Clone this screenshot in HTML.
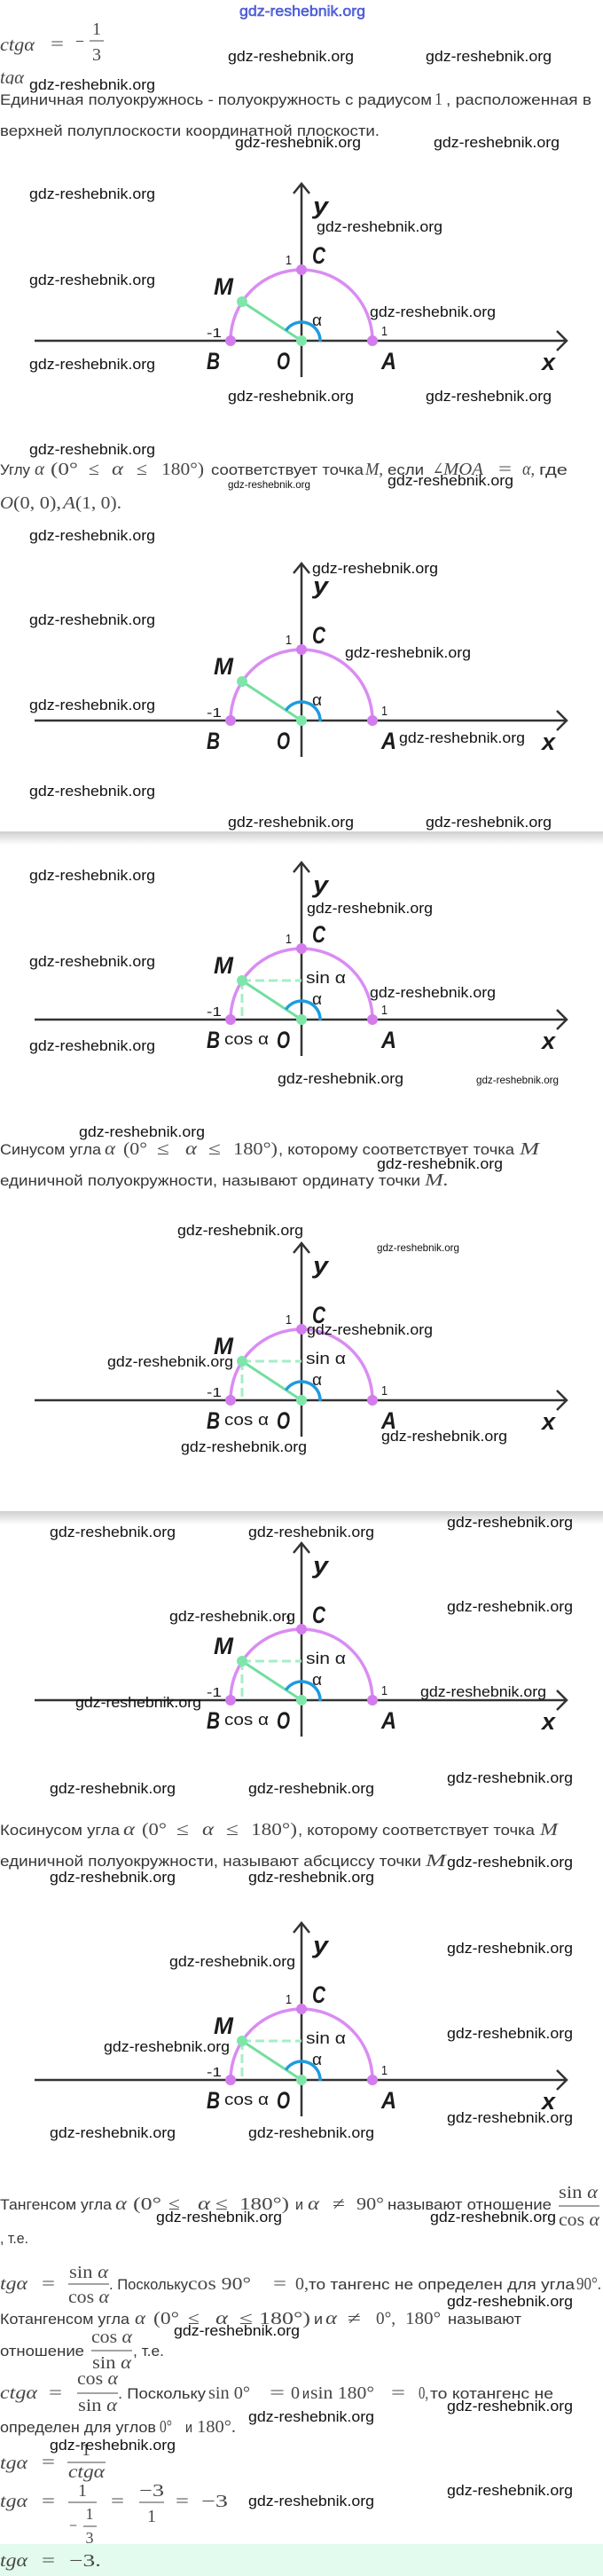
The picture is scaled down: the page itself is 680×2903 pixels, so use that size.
<!DOCTYPE html>
<html><head><meta charset="utf-8">
<style>
html,body{margin:0;padding:0;background:#fff}
svg{display:block}
.t{font-family:"Liberation Sans","DejaVu Sans",sans-serif;font-size:17px;fill:#363636}
.m{font-family:"Liberation Serif","DejaVu Serif",serif;font-size:20px;fill:#474747}
.mi{font-family:"Liberation Serif","DejaVu Serif",serif;font-style:italic;font-size:20px;fill:#474747}
.w{font-family:"Liberation Sans","DejaVu Sans",sans-serif;font-size:17px;fill:#111}
.ws{font-family:"Liberation Sans","DejaVu Sans",sans-serif;font-size:12px;fill:#111}
.L{font-family:"Liberation Sans","DejaVu Sans",sans-serif;font-style:italic;font-weight:bold;font-size:27px;fill:#1b1b1b}
.n{font-family:"Liberation Sans","DejaVu Sans",sans-serif;font-size:15px;fill:#1b1b1b}
.g{font-family:"Liberation Sans","DejaVu Sans",sans-serif;font-size:18px;fill:#1b1b1b}
.ax{stroke:#333;stroke-width:2.5;fill:none}
.arc{stroke:#da8cf3;stroke-width:3.5;fill:none}
.gl{stroke:#72de9f;stroke-width:3}
.ds{stroke:#a6edc8;stroke-width:3;stroke-dasharray:10 5}
.bl{stroke:#1e9be0;stroke-width:3.5;fill:none}
.vd{fill:#d37cee}
.gd{fill:#7ee6a9}
.fb{stroke:#474747;stroke-width:1}
</style></head>
<body>
<svg xmlns="http://www.w3.org/2000/svg" width="680" height="2903" viewBox="0 0 680 2903">
<defs>
<clipPath id="cpB"><rect x="0" y="70" width="60" height="25"/></clipPath>
<linearGradient id="sh" x1="0" y1="0" x2="0" y2="1"><stop offset="0" stop-color="#cfcfcf"/><stop offset="1" stop-color="#ffffff"/></linearGradient>
</defs>
<rect x="0" y="0" width="680" height="2903" fill="#fff"/>

<!-- top -->
<text x="270" y="18" textLength="142" lengthAdjust="spacingAndGlyphs" style="font-family:'Liberation Sans',sans-serif;font-size:17px;fill:#6070e0;stroke:#3444cc;stroke-width:0.5">gdz-reshebnik.org</text>

<text class="mi" x="0" y="57" textLength="39" lengthAdjust="spacingAndGlyphs" style="font-size:21px">ctgα</text>
<text class="m" x="57" y="56" textLength="15" lengthAdjust="spacingAndGlyphs">=</text>
<text class="m" x="85" y="53" textLength="10" lengthAdjust="spacingAndGlyphs">−</text>
<text class="m" x="109" y="39" text-anchor="middle">1</text>
<line class="fb" x1="101" y1="46" x2="117" y2="46"/>
<text class="m" x="109" y="68" text-anchor="middle">3</text>

<text class="mi" x="0" y="94" textLength="27" lengthAdjust="spacingAndGlyphs" clip-path="url(#cpB)" style="font-size:21px">tgα</text>

<text class="t" x="0" y="118" textLength="487" lengthAdjust="spacingAndGlyphs">Единичная полуокружнось - полуокружность с радиусом</text>
<text class="m" x="490" y="118" textLength="9" lengthAdjust="spacingAndGlyphs">1</text>
<text class="t" x="503" y="118" textLength="164" lengthAdjust="spacingAndGlyphs">, расположенная в</text>
<text class="t" x="0" y="153" textLength="428" lengthAdjust="spacingAndGlyphs">верхней полуплоскости координатной плоскости.</text>

<!-- Diagram 1 -->
<g transform="translate(0,384)">
<line class="ax" x1="39" y1="0" x2="639" y2="0"/>
<polyline class="ax" points="628,-11 639,0 628,11"/>
<line class="ax" x1="340" y1="-177" x2="340" y2="41"/>
<polyline class="ax" points="331,-166 340,-177 349,-166"/>
<path class="arc" d="M260 0 A80 80 0 0 1 420 0"/>
<line class="gl" x1="340" y1="0" x2="273" y2="-44"/>
<path class="bl" d="M361 1 A21 21 0 0 0 322.4 -11.4"/>
<circle class="vd" cx="260" cy="0" r="6"/><circle class="vd" cx="340" cy="-80" r="6"/><circle class="vd" cx="420" cy="0" r="6"/>
<circle class="gd" cx="273" cy="-44" r="6"/><circle class="gd" cx="340" cy="0" r="6"/>
<text class="L" x="353" y="-143" textLength="17" lengthAdjust="spacingAndGlyphs">y</text>
<text class="L" x="352" y="-87" textLength="15" lengthAdjust="spacingAndGlyphs">C</text>
<text class="n" x="322" y="-86" textLength="7" lengthAdjust="spacingAndGlyphs">1</text>
<text class="L" x="241" y="-52" textLength="22" lengthAdjust="spacingAndGlyphs">M</text>
<text class="g" x="352" y="-17" textLength="11" lengthAdjust="spacingAndGlyphs">α</text>
<text class="n" x="233" y="-4" textLength="17" lengthAdjust="spacingAndGlyphs">-1</text>
<text class="n" x="430" y="-6" textLength="7" lengthAdjust="spacingAndGlyphs">1</text>
<text class="L" x="233" y="32" textLength="15" lengthAdjust="spacingAndGlyphs">B</text>
<text class="L" x="312" y="32" textLength="15" lengthAdjust="spacingAndGlyphs">O</text>
<text class="L" x="430" y="32" textLength="17" lengthAdjust="spacingAndGlyphs">A</text>
<text class="L" x="611" y="33" textLength="15" lengthAdjust="spacingAndGlyphs">x</text>
</g>

<!-- Angle text -->
<text class="t" x="0" y="535" textLength="34" lengthAdjust="spacingAndGlyphs">Углу</text>
<text class="mi" x="39" y="535" textLength="11" lengthAdjust="spacingAndGlyphs">α</text>
<text class="m" x="57" y="535" textLength="31" lengthAdjust="spacingAndGlyphs">(0°</text>
<text class="m" x="100" y="535" textLength="12" lengthAdjust="spacingAndGlyphs">≤</text>
<text class="mi" x="126" y="535" textLength="13" lengthAdjust="spacingAndGlyphs">α</text>
<text class="m" x="154" y="535" textLength="12" lengthAdjust="spacingAndGlyphs">≤</text>
<text class="m" x="182" y="535" textLength="48" lengthAdjust="spacingAndGlyphs">180°)</text>
<text class="t" x="238" y="535" textLength="172" lengthAdjust="spacingAndGlyphs">соответствует точка</text>
<text class="mi" x="412" y="535" textLength="20" lengthAdjust="spacingAndGlyphs">M,</text>
<text class="t" x="437" y="535" textLength="41" lengthAdjust="spacingAndGlyphs">если</text>
<text class="m" x="488" y="535" textLength="12" lengthAdjust="spacingAndGlyphs">∠</text>
<text class="mi" x="500" y="535" textLength="45" lengthAdjust="spacingAndGlyphs">MOA</text>
<text class="m" x="562" y="535" textLength="15" lengthAdjust="spacingAndGlyphs">=</text>
<text class="mi" x="589" y="535" textLength="14" lengthAdjust="spacingAndGlyphs">α,</text>
<text class="t" x="608" y="535" textLength="32" lengthAdjust="spacingAndGlyphs">где</text>
<text class="mi" x="0" y="573" textLength="15" lengthAdjust="spacingAndGlyphs">O</text>
<text class="m" x="15" y="573" textLength="54" lengthAdjust="spacingAndGlyphs">(0, 0),</text>
<text class="mi" x="71" y="573" textLength="14" lengthAdjust="spacingAndGlyphs">A</text>
<text class="m" x="85" y="573" textLength="52" lengthAdjust="spacingAndGlyphs">(1, 0).</text>

<!-- Diagram 2 -->
<g transform="translate(0,812)">
<line class="ax" x1="39" y1="0" x2="639" y2="0"/>
<polyline class="ax" points="628,-11 639,0 628,11"/>
<line class="ax" x1="340" y1="-177" x2="340" y2="41"/>
<polyline class="ax" points="331,-166 340,-177 349,-166"/>
<path class="arc" d="M260 0 A80 80 0 0 1 420 0"/>
<line class="gl" x1="340" y1="0" x2="273" y2="-44"/>
<path class="bl" d="M361 1 A21 21 0 0 0 322.4 -11.4"/>
<circle class="vd" cx="260" cy="0" r="6"/><circle class="vd" cx="340" cy="-80" r="6"/><circle class="vd" cx="420" cy="0" r="6"/>
<circle class="gd" cx="273" cy="-44" r="6"/><circle class="gd" cx="340" cy="0" r="6"/>
<text class="L" x="353" y="-143" textLength="17" lengthAdjust="spacingAndGlyphs">y</text>
<text class="L" x="352" y="-87" textLength="15" lengthAdjust="spacingAndGlyphs">C</text>
<text class="n" x="322" y="-86" textLength="7" lengthAdjust="spacingAndGlyphs">1</text>
<text class="L" x="241" y="-52" textLength="22" lengthAdjust="spacingAndGlyphs">M</text>
<text class="g" x="352" y="-17" textLength="11" lengthAdjust="spacingAndGlyphs">α</text>
<text class="n" x="233" y="-4" textLength="17" lengthAdjust="spacingAndGlyphs">-1</text>
<text class="n" x="430" y="-6" textLength="7" lengthAdjust="spacingAndGlyphs">1</text>
<text class="L" x="233" y="32" textLength="15" lengthAdjust="spacingAndGlyphs">B</text>
<text class="L" x="312" y="32" textLength="15" lengthAdjust="spacingAndGlyphs">O</text>
<text class="L" x="430" y="32" textLength="17" lengthAdjust="spacingAndGlyphs">A</text>
<text class="L" x="611" y="33" textLength="15" lengthAdjust="spacingAndGlyphs">x</text>
</g>

<!-- watermarks before band 1 -->
<text class="w" x="257" y="932" textLength="142" lengthAdjust="spacingAndGlyphs">gdz-reshebnik.org</text>
<text class="w" x="480" y="932" textLength="142" lengthAdjust="spacingAndGlyphs">gdz-reshebnik.org</text>
<rect x="0" y="937" width="680" height="15" fill="url(#sh)"/>

<!-- Diagram 3 -->
<g transform="translate(0,1149)">
<line class="ax" x1="39" y1="0" x2="639" y2="0"/>
<polyline class="ax" points="628,-11 639,0 628,11"/>
<line class="ax" x1="340" y1="-177" x2="340" y2="41"/>
<polyline class="ax" points="331,-166 340,-177 349,-166"/>
<path class="arc" d="M260 0 A80 80 0 0 1 420 0"/>
<line class="ds" x1="273" y1="-44" x2="340" y2="-44"/>
<line class="ds" x1="273" y1="-44" x2="273" y2="0"/>
<line class="gl" x1="340" y1="0" x2="273" y2="-44"/>
<path class="bl" d="M361 1 A21 21 0 0 0 322.4 -11.4"/>
<circle class="vd" cx="260" cy="0" r="6"/><circle class="vd" cx="340" cy="-80" r="6"/><circle class="vd" cx="420" cy="0" r="6"/>
<circle class="gd" cx="273" cy="-44" r="6"/><circle class="gd" cx="340" cy="0" r="6"/>
<text class="L" x="353" y="-143" textLength="17" lengthAdjust="spacingAndGlyphs">y</text>
<text class="L" x="352" y="-87" textLength="15" lengthAdjust="spacingAndGlyphs">C</text>
<text class="n" x="322" y="-86" textLength="7" lengthAdjust="spacingAndGlyphs">1</text>
<text class="L" x="241" y="-52" textLength="22" lengthAdjust="spacingAndGlyphs">M</text>
<text class="g" x="345" y="-41" textLength="45" lengthAdjust="spacingAndGlyphs">sin α</text>
<text class="g" x="352" y="-17" textLength="11" lengthAdjust="spacingAndGlyphs">α</text>
<text class="n" x="233" y="-4" textLength="17" lengthAdjust="spacingAndGlyphs">-1</text>
<text class="n" x="430" y="-6" textLength="7" lengthAdjust="spacingAndGlyphs">1</text>
<text class="L" x="233" y="32" textLength="15" lengthAdjust="spacingAndGlyphs">B</text>
<text class="g" x="253" y="28" textLength="50" lengthAdjust="spacingAndGlyphs">cos α</text>
<text class="L" x="312" y="32" textLength="15" lengthAdjust="spacingAndGlyphs">O</text>
<text class="L" x="430" y="32" textLength="17" lengthAdjust="spacingAndGlyphs">A</text>
<text class="L" x="611" y="33" textLength="15" lengthAdjust="spacingAndGlyphs">x</text>
</g>

<!-- Sine text -->
<text class="t" x="0" y="1301" textLength="114" lengthAdjust="spacingAndGlyphs">Синусом угла</text>
<text class="mi" x="118" y="1301" textLength="12" lengthAdjust="spacingAndGlyphs">α</text>
<text class="m" x="139" y="1301" textLength="27" lengthAdjust="spacingAndGlyphs">(0°</text>
<text class="m" x="177" y="1301" textLength="14" lengthAdjust="spacingAndGlyphs">≤</text>
<text class="mi" x="209" y="1301" textLength="13" lengthAdjust="spacingAndGlyphs">α</text>
<text class="m" x="235" y="1301" textLength="14" lengthAdjust="spacingAndGlyphs">≤</text>
<text class="m" x="263" y="1301" textLength="50" lengthAdjust="spacingAndGlyphs">180°)</text>
<text class="t" x="314" y="1301" textLength="266" lengthAdjust="spacingAndGlyphs">, которому соответствует точка</text>
<text class="mi" x="586" y="1301" textLength="22" lengthAdjust="spacingAndGlyphs">M</text>
<text class="t" x="0" y="1336" textLength="474" lengthAdjust="spacingAndGlyphs">единичной полуокружности, называют ординату точки</text>
<text class="mi" x="479" y="1336" textLength="27" lengthAdjust="spacingAndGlyphs">M.</text>

<!-- Diagram 4 -->
<g transform="translate(0,1578)">
<line class="ax" x1="39" y1="0" x2="639" y2="0"/>
<polyline class="ax" points="628,-11 639,0 628,11"/>
<line class="ax" x1="340" y1="-177" x2="340" y2="41"/>
<polyline class="ax" points="331,-166 340,-177 349,-166"/>
<path class="arc" d="M260 0 A80 80 0 0 1 420 0"/>
<line class="ds" x1="273" y1="-44" x2="340" y2="-44"/>
<line class="ds" x1="273" y1="-44" x2="273" y2="0"/>
<line class="gl" x1="340" y1="0" x2="273" y2="-44"/>
<path class="bl" d="M361 1 A21 21 0 0 0 322.4 -11.4"/>
<circle class="vd" cx="260" cy="0" r="6"/><circle class="vd" cx="340" cy="-80" r="6"/><circle class="vd" cx="420" cy="0" r="6"/>
<circle class="gd" cx="273" cy="-44" r="6"/><circle class="gd" cx="340" cy="0" r="6"/>
<text class="L" x="353" y="-143" textLength="17" lengthAdjust="spacingAndGlyphs">y</text>
<text class="L" x="352" y="-87" textLength="15" lengthAdjust="spacingAndGlyphs">C</text>
<text class="n" x="322" y="-86" textLength="7" lengthAdjust="spacingAndGlyphs">1</text>
<text class="L" x="241" y="-52" textLength="22" lengthAdjust="spacingAndGlyphs">M</text>
<text class="g" x="345" y="-41" textLength="45" lengthAdjust="spacingAndGlyphs">sin α</text>
<text class="g" x="352" y="-17" textLength="11" lengthAdjust="spacingAndGlyphs">α</text>
<text class="n" x="233" y="-4" textLength="17" lengthAdjust="spacingAndGlyphs">-1</text>
<text class="n" x="430" y="-6" textLength="7" lengthAdjust="spacingAndGlyphs">1</text>
<text class="L" x="233" y="32" textLength="15" lengthAdjust="spacingAndGlyphs">B</text>
<text class="g" x="253" y="28" textLength="50" lengthAdjust="spacingAndGlyphs">cos α</text>
<text class="L" x="312" y="32" textLength="15" lengthAdjust="spacingAndGlyphs">O</text>
<text class="L" x="430" y="32" textLength="17" lengthAdjust="spacingAndGlyphs">A</text>
<text class="L" x="611" y="33" textLength="15" lengthAdjust="spacingAndGlyphs">x</text>
</g>

<rect x="0" y="1703" width="680" height="15" fill="url(#sh)"/>

<!-- Diagram 5 -->
<g transform="translate(0,1916)">
<line class="ax" x1="39" y1="0" x2="639" y2="0"/>
<polyline class="ax" points="628,-11 639,0 628,11"/>
<line class="ax" x1="340" y1="-177" x2="340" y2="41"/>
<polyline class="ax" points="331,-166 340,-177 349,-166"/>
<path class="arc" d="M260 0 A80 80 0 0 1 420 0"/>
<line class="ds" x1="273" y1="-44" x2="340" y2="-44"/>
<line class="ds" x1="273" y1="-44" x2="273" y2="0"/>
<line class="gl" x1="340" y1="0" x2="273" y2="-44"/>
<path class="bl" d="M361 1 A21 21 0 0 0 322.4 -11.4"/>
<circle class="vd" cx="260" cy="0" r="6"/><circle class="vd" cx="340" cy="-80" r="6"/><circle class="vd" cx="420" cy="0" r="6"/>
<circle class="gd" cx="273" cy="-44" r="6"/><circle class="gd" cx="340" cy="0" r="6"/>
<text class="L" x="353" y="-143" textLength="17" lengthAdjust="spacingAndGlyphs">y</text>
<text class="L" x="352" y="-87" textLength="15" lengthAdjust="spacingAndGlyphs">C</text>
<text class="n" x="322" y="-86" textLength="7" lengthAdjust="spacingAndGlyphs">1</text>
<text class="L" x="241" y="-52" textLength="22" lengthAdjust="spacingAndGlyphs">M</text>
<text class="g" x="345" y="-41" textLength="45" lengthAdjust="spacingAndGlyphs">sin α</text>
<text class="g" x="352" y="-17" textLength="11" lengthAdjust="spacingAndGlyphs">α</text>
<text class="n" x="233" y="-4" textLength="17" lengthAdjust="spacingAndGlyphs">-1</text>
<text class="n" x="430" y="-6" textLength="7" lengthAdjust="spacingAndGlyphs">1</text>
<text class="L" x="233" y="32" textLength="15" lengthAdjust="spacingAndGlyphs">B</text>
<text class="g" x="253" y="28" textLength="50" lengthAdjust="spacingAndGlyphs">cos α</text>
<text class="L" x="312" y="32" textLength="15" lengthAdjust="spacingAndGlyphs">O</text>
<text class="L" x="430" y="32" textLength="17" lengthAdjust="spacingAndGlyphs">A</text>
<text class="L" x="611" y="33" textLength="15" lengthAdjust="spacingAndGlyphs">x</text>
</g>

<!-- Cosine text -->
<text class="t" x="0" y="2068" textLength="135" lengthAdjust="spacingAndGlyphs">Косинусом угла</text>
<text class="mi" x="139" y="2068" textLength="13" lengthAdjust="spacingAndGlyphs">α</text>
<text class="m" x="160" y="2068" textLength="28" lengthAdjust="spacingAndGlyphs">(0°</text>
<text class="m" x="199" y="2068" textLength="14" lengthAdjust="spacingAndGlyphs">≤</text>
<text class="mi" x="228" y="2068" textLength="13" lengthAdjust="spacingAndGlyphs">α</text>
<text class="m" x="255" y="2068" textLength="14" lengthAdjust="spacingAndGlyphs">≤</text>
<text class="m" x="283" y="2068" textLength="52" lengthAdjust="spacingAndGlyphs">180°)</text>
<text class="t" x="336" y="2068" textLength="267" lengthAdjust="spacingAndGlyphs">, которому соответствует точка</text>
<text class="mi" x="609" y="2068" textLength="20" lengthAdjust="spacingAndGlyphs">M</text>
<text class="t" x="0" y="2103" textLength="475" lengthAdjust="spacingAndGlyphs">единичной полуокружности, называют абсциссу точки</text>
<text class="mi" x="480" y="2103" textLength="23" lengthAdjust="spacingAndGlyphs">M</text>

<!-- Diagram 6 -->
<g transform="translate(0,2344)">
<line class="ax" x1="39" y1="0" x2="639" y2="0"/>
<polyline class="ax" points="628,-11 639,0 628,11"/>
<line class="ax" x1="340" y1="-177" x2="340" y2="41"/>
<polyline class="ax" points="331,-166 340,-177 349,-166"/>
<path class="arc" d="M260 0 A80 80 0 0 1 420 0"/>
<line class="ds" x1="273" y1="-44" x2="340" y2="-44"/>
<line class="ds" x1="273" y1="-44" x2="273" y2="0"/>
<line class="gl" x1="340" y1="0" x2="273" y2="-44"/>
<path class="bl" d="M361 1 A21 21 0 0 0 322.4 -11.4"/>
<circle class="vd" cx="260" cy="0" r="6"/><circle class="vd" cx="340" cy="-80" r="6"/><circle class="vd" cx="420" cy="0" r="6"/>
<circle class="gd" cx="273" cy="-44" r="6"/><circle class="gd" cx="340" cy="0" r="6"/>
<text class="L" x="353" y="-143" textLength="17" lengthAdjust="spacingAndGlyphs">y</text>
<text class="L" x="352" y="-87" textLength="15" lengthAdjust="spacingAndGlyphs">C</text>
<text class="n" x="322" y="-86" textLength="7" lengthAdjust="spacingAndGlyphs">1</text>
<text class="L" x="241" y="-52" textLength="22" lengthAdjust="spacingAndGlyphs">M</text>
<text class="g" x="345" y="-41" textLength="45" lengthAdjust="spacingAndGlyphs">sin α</text>
<text class="g" x="352" y="-17" textLength="11" lengthAdjust="spacingAndGlyphs">α</text>
<text class="n" x="233" y="-4" textLength="17" lengthAdjust="spacingAndGlyphs">-1</text>
<text class="n" x="430" y="-6" textLength="7" lengthAdjust="spacingAndGlyphs">1</text>
<text class="L" x="233" y="32" textLength="15" lengthAdjust="spacingAndGlyphs">B</text>
<text class="g" x="253" y="28" textLength="50" lengthAdjust="spacingAndGlyphs">cos α</text>
<text class="L" x="312" y="32" textLength="15" lengthAdjust="spacingAndGlyphs">O</text>
<text class="L" x="430" y="32" textLength="17" lengthAdjust="spacingAndGlyphs">A</text>
<text class="L" x="611" y="33" textLength="15" lengthAdjust="spacingAndGlyphs">x</text>
</g>

<!-- Tangent text -->
<text class="t" x="0" y="2490" textLength="126" lengthAdjust="spacingAndGlyphs">Тангенсом угла</text>
<text class="mi" x="130" y="2490" textLength="13" lengthAdjust="spacingAndGlyphs">α</text>
<text class="m" x="150" y="2490" textLength="32" lengthAdjust="spacingAndGlyphs">(0°</text>
<text class="m" x="190" y="2490" textLength="13" lengthAdjust="spacingAndGlyphs">≤</text>
<text class="mi" x="223" y="2490" textLength="14" lengthAdjust="spacingAndGlyphs">α</text>
<text class="m" x="243" y="2490" textLength="14" lengthAdjust="spacingAndGlyphs">≤</text>
<text class="m" x="270" y="2490" textLength="56" lengthAdjust="spacingAndGlyphs">180°)</text>
<text class="t" x="333" y="2490" textLength="9" lengthAdjust="spacingAndGlyphs">и</text>
<text class="mi" x="347" y="2490" textLength="13" lengthAdjust="spacingAndGlyphs">α</text>
<text class="m" x="375" y="2490" textLength="14" lengthAdjust="spacingAndGlyphs">≠</text>
<text class="m" x="402" y="2490" textLength="31" lengthAdjust="spacingAndGlyphs">90°</text>
<text class="t" x="437" y="2490" textLength="185" lengthAdjust="spacingAndGlyphs">называют отношение</text>
<text class="m" x="630" y="2477" textLength="44" lengthAdjust="spacingAndGlyphs">sin <tspan style="font-style:italic">α</tspan></text>
<line class="fb" x1="630" y1="2486" x2="676" y2="2486"/>
<text class="m" x="630" y="2508" textLength="46" lengthAdjust="spacingAndGlyphs">cos <tspan style="font-style:italic">α</tspan></text>
<text class="t" x="0" y="2528" textLength="32" lengthAdjust="spacingAndGlyphs">, т.е.</text>

<text class="mi" x="0" y="2580" textLength="31" lengthAdjust="spacingAndGlyphs">tgα</text>
<text class="m" x="47" y="2580" textLength="15" lengthAdjust="spacingAndGlyphs">=</text>
<text class="m" x="78" y="2567" textLength="44" lengthAdjust="spacingAndGlyphs">sin <tspan style="font-style:italic">α</tspan></text>
<line class="fb" x1="77" y1="2574" x2="123" y2="2574"/>
<text class="m" x="77" y="2595" textLength="46" lengthAdjust="spacingAndGlyphs">cos <tspan style="font-style:italic">α</tspan></text>
<text class="t" x="123" y="2580" textLength="89" lengthAdjust="spacingAndGlyphs">. Поскольку</text>
<text class="m" x="212" y="2580" textLength="71" lengthAdjust="spacingAndGlyphs">cos 90°</text>
<text class="m" x="308" y="2580" textLength="15" lengthAdjust="spacingAndGlyphs">=</text>
<text class="m" x="333" y="2580" textLength="15" lengthAdjust="spacingAndGlyphs">0,</text>
<text class="t" x="348" y="2580" textLength="300" lengthAdjust="spacingAndGlyphs">то тангенс не определен для угла</text>
<text class="m" x="650" y="2580" textLength="28" lengthAdjust="spacingAndGlyphs">90°.</text>

<!-- Cotangent text -->
<text class="t" x="0" y="2619" textLength="146" lengthAdjust="spacingAndGlyphs">Котангенсом угла</text>
<text class="mi" x="152" y="2619" textLength="12" lengthAdjust="spacingAndGlyphs">α</text>
<text class="m" x="173" y="2619" textLength="29" lengthAdjust="spacingAndGlyphs">(0°</text>
<text class="m" x="212" y="2619" textLength="13" lengthAdjust="spacingAndGlyphs">≤</text>
<text class="mi" x="243" y="2619" textLength="14" lengthAdjust="spacingAndGlyphs">α</text>
<text class="m" x="270" y="2619" textLength="15" lengthAdjust="spacingAndGlyphs">≤</text>
<text class="m" x="292" y="2619" textLength="58" lengthAdjust="spacingAndGlyphs">180°)</text>
<text class="t" x="354" y="2619" textLength="10" lengthAdjust="spacingAndGlyphs">и</text>
<text class="mi" x="367" y="2619" textLength="13" lengthAdjust="spacingAndGlyphs">α</text>
<text class="m" x="392" y="2619" textLength="15" lengthAdjust="spacingAndGlyphs">≠</text>
<text class="m" x="424" y="2619" textLength="22" lengthAdjust="spacingAndGlyphs">0°,</text>
<text class="m" x="457" y="2619" textLength="40" lengthAdjust="spacingAndGlyphs">180°</text>
<text class="t" x="505" y="2619" textLength="83" lengthAdjust="spacingAndGlyphs">называют</text>

<text class="t" x="0" y="2655" textLength="95" lengthAdjust="spacingAndGlyphs">отношение</text>
<text class="m" x="103" y="2640" textLength="46" lengthAdjust="spacingAndGlyphs">cos <tspan style="font-style:italic">α</tspan></text>
<line class="fb" x1="103" y1="2649" x2="149" y2="2649"/>
<text class="m" x="104" y="2669" textLength="44" lengthAdjust="spacingAndGlyphs">sin <tspan style="font-style:italic">α</tspan></text>
<text class="t" x="150" y="2655" textLength="35" lengthAdjust="spacingAndGlyphs">, т.е.</text>

<text class="mi" x="0" y="2703" textLength="42" lengthAdjust="spacingAndGlyphs">ctgα</text>
<text class="m" x="55" y="2703" textLength="15" lengthAdjust="spacingAndGlyphs">=</text>
<text class="m" x="87" y="2687" textLength="46" lengthAdjust="spacingAndGlyphs">cos <tspan style="font-style:italic">α</tspan></text>
<line class="fb" x1="87" y1="2697" x2="133" y2="2697"/>
<text class="m" x="88" y="2717" textLength="44" lengthAdjust="spacingAndGlyphs">sin <tspan style="font-style:italic">α</tspan></text>
<text class="t" x="133" y="2703" textLength="99" lengthAdjust="spacingAndGlyphs">. Поскольку</text>
<text class="m" x="235" y="2703" textLength="47" lengthAdjust="spacingAndGlyphs">sin 0°</text>
<text class="m" x="304" y="2703" textLength="17" lengthAdjust="spacingAndGlyphs">=</text>
<text class="m" x="328" y="2703" textLength="10" lengthAdjust="spacingAndGlyphs">0</text>
<text class="t" x="341" y="2703" textLength="8" lengthAdjust="spacingAndGlyphs">и</text>
<text class="m" x="350" y="2703" textLength="72" lengthAdjust="spacingAndGlyphs">sin 180°</text>
<text class="m" x="441" y="2703" textLength="16" lengthAdjust="spacingAndGlyphs">=</text>
<text class="m" x="472" y="2703" textLength="11" lengthAdjust="spacingAndGlyphs">0,</text>
<text class="t" x="485" y="2703" textLength="139" lengthAdjust="spacingAndGlyphs">то котангенс не</text>

<text class="t" x="0" y="2741" textLength="176" lengthAdjust="spacingAndGlyphs">определен для углов</text>
<text class="m" x="180" y="2741" textLength="14" lengthAdjust="spacingAndGlyphs">0°</text>
<text class="t" x="209" y="2741" textLength="8" lengthAdjust="spacingAndGlyphs">и</text>
<text class="m" x="222" y="2741" textLength="44" lengthAdjust="spacingAndGlyphs">180°.</text>

<text class="mi" x="0" y="2782" textLength="31" lengthAdjust="spacingAndGlyphs">tgα</text>
<text class="m" x="47" y="2781" textLength="15" lengthAdjust="spacingAndGlyphs">=</text>
<text class="m" x="97" y="2767" text-anchor="middle">1</text>
<line class="fb" x1="76" y1="2775" x2="119" y2="2775"/>
<text class="mi" x="77" y="2792" textLength="41" lengthAdjust="spacingAndGlyphs">ctgα</text>

<text class="mi" x="0" y="2825" textLength="31" lengthAdjust="spacingAndGlyphs">tgα</text>
<text class="m" x="47" y="2825" textLength="15" lengthAdjust="spacingAndGlyphs">=</text>
<text class="m" x="93" y="2813" text-anchor="middle">1</text>
<line class="fb" x1="77" y1="2820" x2="109" y2="2820"/>
<text class="m" x="78" y="2852" textLength="9" lengthAdjust="spacingAndGlyphs" style="font-size:18px">−</text>
<text class="m" x="101" y="2839" text-anchor="middle" style="font-size:18px">1</text>
<line class="fb" x1="94" y1="2847" x2="109" y2="2847"/>
<text class="m" x="101" y="2866" text-anchor="middle" style="font-size:18px">3</text>
<text class="m" x="125" y="2825" textLength="15" lengthAdjust="spacingAndGlyphs">=</text>
<text class="m" x="157" y="2813" textLength="28" lengthAdjust="spacingAndGlyphs">−3</text>
<line class="fb" x1="157" y1="2820" x2="185" y2="2820"/>
<text class="m" x="171" y="2842" text-anchor="middle">1</text>
<text class="m" x="198" y="2825" textLength="15" lengthAdjust="spacingAndGlyphs">=</text>
<text class="m" x="227" y="2825" textLength="30" lengthAdjust="spacingAndGlyphs">−3</text>

<rect x="0" y="2867" width="680" height="36" fill="#e2fbee"/>
<text class="mi" x="0" y="2892" textLength="31" lengthAdjust="spacingAndGlyphs">tgα</text>
<text class="m" x="47" y="2892" textLength="15" lengthAdjust="spacingAndGlyphs">=</text>
<text class="m" x="78" y="2892" textLength="36" lengthAdjust="spacingAndGlyphs">−3.</text>

<!-- Watermarks -->
<g>
<text class="w" x="257" y="69" textLength="142" lengthAdjust="spacingAndGlyphs">gdz-reshebnik.org</text>
<text class="w" x="480" y="69" textLength="142" lengthAdjust="spacingAndGlyphs">gdz-reshebnik.org</text>
<text class="w" x="33" y="101" textLength="142" lengthAdjust="spacingAndGlyphs">gdz-reshebnik.org</text>
<text class="w" x="265" y="166" textLength="142" lengthAdjust="spacingAndGlyphs">gdz-reshebnik.org</text>
<text class="w" x="489" y="166" textLength="142" lengthAdjust="spacingAndGlyphs">gdz-reshebnik.org</text>
<text class="w" x="33" y="224" textLength="142" lengthAdjust="spacingAndGlyphs">gdz-reshebnik.org</text>
<text class="w" x="357" y="261" textLength="142" lengthAdjust="spacingAndGlyphs">gdz-reshebnik.org</text>
<text class="w" x="33" y="321" textLength="142" lengthAdjust="spacingAndGlyphs">gdz-reshebnik.org</text>
<text class="w" x="417" y="357" textLength="142" lengthAdjust="spacingAndGlyphs">gdz-reshebnik.org</text>
<text class="w" x="33" y="416" textLength="142" lengthAdjust="spacingAndGlyphs">gdz-reshebnik.org</text>
<text class="w" x="257" y="452" textLength="142" lengthAdjust="spacingAndGlyphs">gdz-reshebnik.org</text>
<text class="w" x="480" y="452" textLength="142" lengthAdjust="spacingAndGlyphs">gdz-reshebnik.org</text>
<text class="w" x="33" y="512" textLength="142" lengthAdjust="spacingAndGlyphs">gdz-reshebnik.org</text>
<text class="ws" x="257" y="550" textLength="93" lengthAdjust="spacingAndGlyphs">gdz-reshebnik.org</text>
<text class="w" x="437" y="547" textLength="142" lengthAdjust="spacingAndGlyphs">gdz-reshebnik.org</text>
<text class="w" x="33" y="609" textLength="142" lengthAdjust="spacingAndGlyphs">gdz-reshebnik.org</text>
<text class="w" x="352" y="646" textLength="142" lengthAdjust="spacingAndGlyphs">gdz-reshebnik.org</text>
<text class="w" x="33" y="704" textLength="142" lengthAdjust="spacingAndGlyphs">gdz-reshebnik.org</text>
<text class="w" x="389" y="741" textLength="142" lengthAdjust="spacingAndGlyphs">gdz-reshebnik.org</text>
<text class="w" x="33" y="800" textLength="142" lengthAdjust="spacingAndGlyphs">gdz-reshebnik.org</text>
<text class="w" x="450" y="837" textLength="142" lengthAdjust="spacingAndGlyphs">gdz-reshebnik.org</text>
<text class="w" x="33" y="897" textLength="142" lengthAdjust="spacingAndGlyphs">gdz-reshebnik.org</text>
<text class="w" x="33" y="992" textLength="142" lengthAdjust="spacingAndGlyphs">gdz-reshebnik.org</text>
<text class="w" x="346" y="1029" textLength="142" lengthAdjust="spacingAndGlyphs">gdz-reshebnik.org</text>
<text class="w" x="33" y="1089" textLength="142" lengthAdjust="spacingAndGlyphs">gdz-reshebnik.org</text>
<text class="w" x="417" y="1124" textLength="142" lengthAdjust="spacingAndGlyphs">gdz-reshebnik.org</text>
<text class="w" x="33" y="1184" textLength="142" lengthAdjust="spacingAndGlyphs">gdz-reshebnik.org</text>
<text class="w" x="313" y="1221" textLength="142" lengthAdjust="spacingAndGlyphs">gdz-reshebnik.org</text>
<text class="ws" x="537" y="1221" textLength="93" lengthAdjust="spacingAndGlyphs">gdz-reshebnik.org</text>
<text class="w" x="89" y="1281" textLength="142" lengthAdjust="spacingAndGlyphs">gdz-reshebnik.org</text>
<text class="w" x="425" y="1317" textLength="142" lengthAdjust="spacingAndGlyphs">gdz-reshebnik.org</text>
<text class="w" x="200" y="1392" textLength="142" lengthAdjust="spacingAndGlyphs">gdz-reshebnik.org</text>
<text class="ws" x="425" y="1410" textLength="93" lengthAdjust="spacingAndGlyphs">gdz-reshebnik.org</text>
<text class="w" x="346" y="1504" textLength="142" lengthAdjust="spacingAndGlyphs">gdz-reshebnik.org</text>
<text class="w" x="121" y="1540" textLength="142" lengthAdjust="spacingAndGlyphs">gdz-reshebnik.org</text>
<text class="w" x="430" y="1624" textLength="142" lengthAdjust="spacingAndGlyphs">gdz-reshebnik.org</text>
<text class="w" x="204" y="1636" textLength="142" lengthAdjust="spacingAndGlyphs">gdz-reshebnik.org</text>
<text class="w" x="504" y="1721" textLength="142" lengthAdjust="spacingAndGlyphs">gdz-reshebnik.org</text>
<text class="w" x="56" y="1732" textLength="142" lengthAdjust="spacingAndGlyphs">gdz-reshebnik.org</text>
<text class="w" x="280" y="1732" textLength="142" lengthAdjust="spacingAndGlyphs">gdz-reshebnik.org</text>
<text class="w" x="504" y="1816" textLength="142" lengthAdjust="spacingAndGlyphs">gdz-reshebnik.org</text>
<text class="w" x="191" y="1827" textLength="142" lengthAdjust="spacingAndGlyphs">gdz-reshebnik.org</text>
<text class="w" x="474" y="1912" textLength="142" lengthAdjust="spacingAndGlyphs">gdz-reshebnik.org</text>
<text class="w" x="85" y="1924" textLength="142" lengthAdjust="spacingAndGlyphs">gdz-reshebnik.org</text>
<text class="w" x="504" y="2009" textLength="142" lengthAdjust="spacingAndGlyphs">gdz-reshebnik.org</text>
<text class="w" x="56" y="2021" textLength="142" lengthAdjust="spacingAndGlyphs">gdz-reshebnik.org</text>
<text class="w" x="280" y="2021" textLength="142" lengthAdjust="spacingAndGlyphs">gdz-reshebnik.org</text>
<text class="w" x="504" y="2104" textLength="142" lengthAdjust="spacingAndGlyphs">gdz-reshebnik.org</text>
<text class="w" x="56" y="2121" textLength="142" lengthAdjust="spacingAndGlyphs">gdz-reshebnik.org</text>
<text class="w" x="280" y="2121" textLength="142" lengthAdjust="spacingAndGlyphs">gdz-reshebnik.org</text>
<text class="w" x="504" y="2201" textLength="142" lengthAdjust="spacingAndGlyphs">gdz-reshebnik.org</text>
<text class="w" x="191" y="2216" textLength="142" lengthAdjust="spacingAndGlyphs">gdz-reshebnik.org</text>
<text class="w" x="504" y="2297" textLength="142" lengthAdjust="spacingAndGlyphs">gdz-reshebnik.org</text>
<text class="w" x="117" y="2312" textLength="142" lengthAdjust="spacingAndGlyphs">gdz-reshebnik.org</text>
<text class="w" x="504" y="2392" textLength="142" lengthAdjust="spacingAndGlyphs">gdz-reshebnik.org</text>
<text class="w" x="56" y="2409" textLength="142" lengthAdjust="spacingAndGlyphs">gdz-reshebnik.org</text>
<text class="w" x="280" y="2409" textLength="142" lengthAdjust="spacingAndGlyphs">gdz-reshebnik.org</text>
<text class="w" x="176" y="2504" textLength="142" lengthAdjust="spacingAndGlyphs">gdz-reshebnik.org</text>
<text class="w" x="485" y="2504" textLength="142" lengthAdjust="spacingAndGlyphs">gdz-reshebnik.org</text>
<text class="w" x="504" y="2599" textLength="142" lengthAdjust="spacingAndGlyphs">gdz-reshebnik.org</text>
<text class="w" x="196" y="2632" textLength="142" lengthAdjust="spacingAndGlyphs">gdz-reshebnik.org</text>
<text class="w" x="504" y="2717" textLength="142" lengthAdjust="spacingAndGlyphs">gdz-reshebnik.org</text>
<text class="w" x="280" y="2729" textLength="142" lengthAdjust="spacingAndGlyphs">gdz-reshebnik.org</text>
<text class="w" x="56" y="2761" textLength="142" lengthAdjust="spacingAndGlyphs">gdz-reshebnik.org</text>
<text class="w" x="504" y="2812" textLength="142" lengthAdjust="spacingAndGlyphs">gdz-reshebnik.org</text>
<text class="w" x="280" y="2824" textLength="142" lengthAdjust="spacingAndGlyphs">gdz-reshebnik.org</text>
</g>
</svg>
</body></html>
